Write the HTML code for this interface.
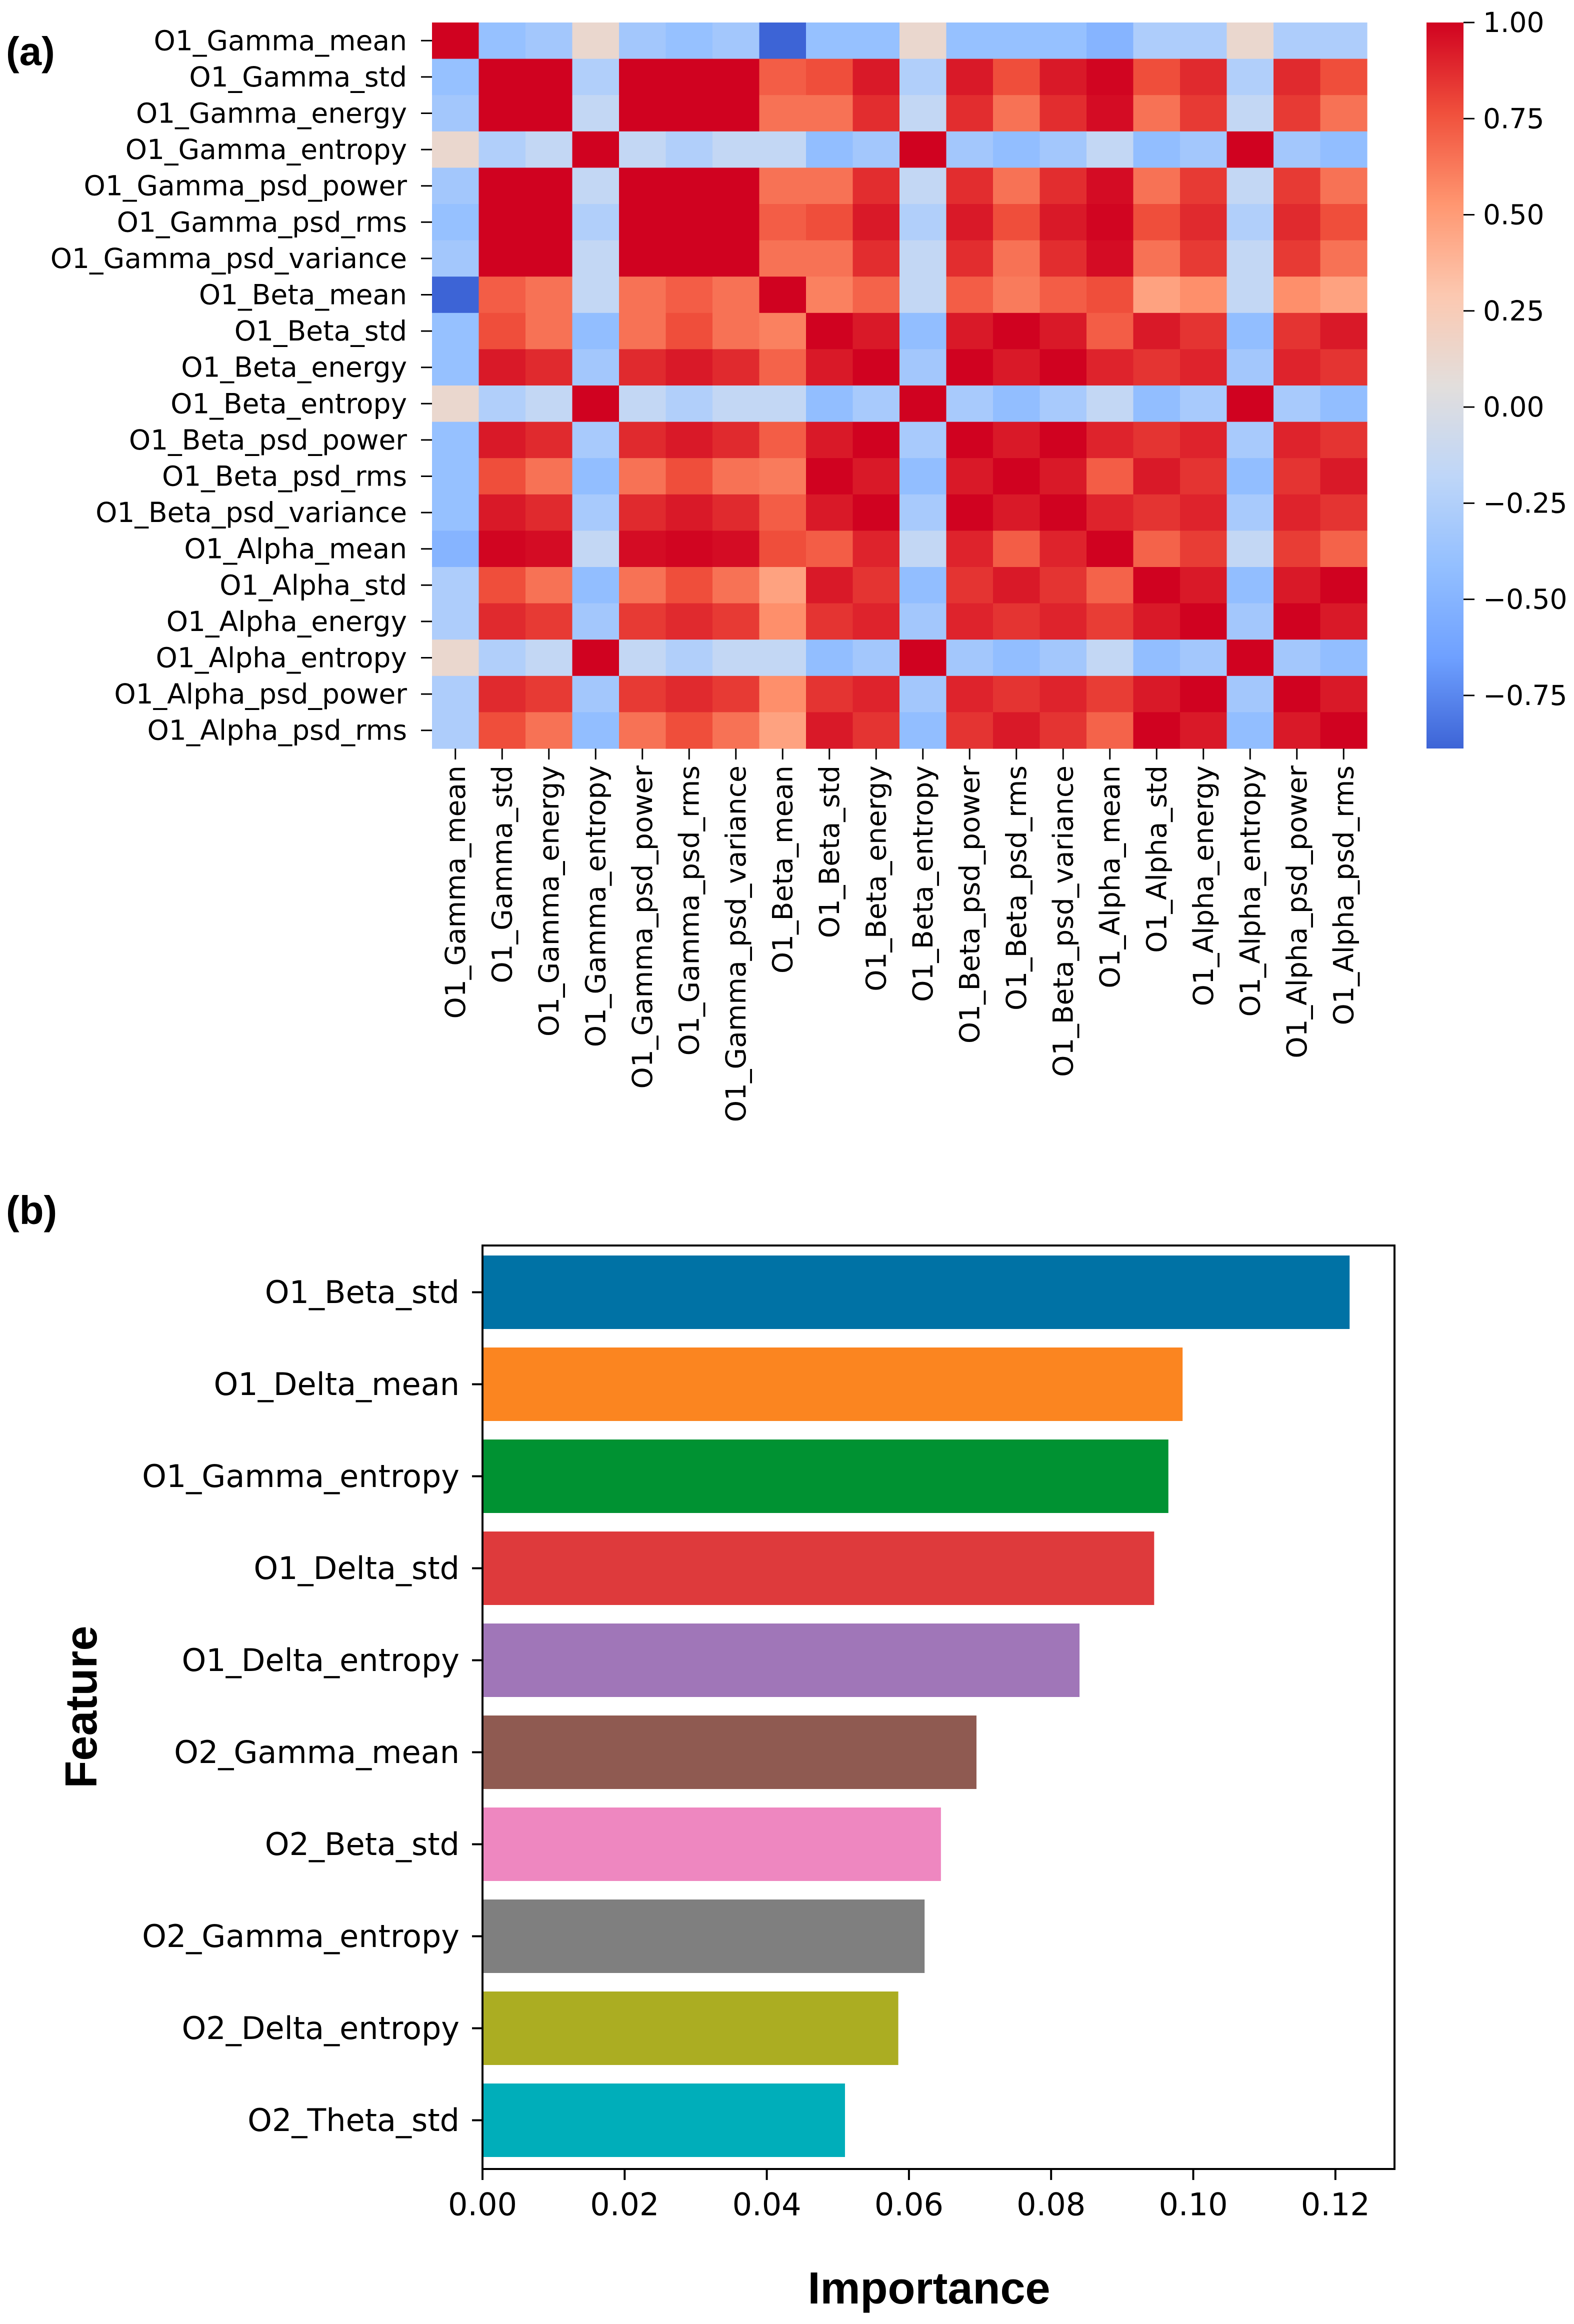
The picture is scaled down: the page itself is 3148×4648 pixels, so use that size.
<!DOCTYPE html>
<html><head><meta charset="utf-8"><style>
html,body{margin:0;padding:0;background:#fff;}
svg{display:block;}
text{font-family:"DejaVu Sans","Liberation Sans",sans-serif;fill:#000;}
.b{font-family:"Liberation Sans",sans-serif;font-weight:bold;}
</style></head><body>
<svg id="fig" xmlns="http://www.w3.org/2000/svg" width="3148" height="4648" viewBox="0 0 3148 4648">
<rect width="3148" height="4648" fill="#fff"/>
<text class="b" x="12" y="130" font-size="80">(a)</text>
<text class="b" x="12" y="2448" font-size="80">(b)</text>
<defs>
<linearGradient id="cbg" x1="0" y1="1" x2="0" y2="0">
<stop offset="0" stop-color="rgb(61,100,214)"/><stop offset="0.125" stop-color="rgb(110,160,255)"/>
<stop offset="0.25" stop-color="rgb(147,191,255)"/><stop offset="0.375" stop-color="rgb(190,214,248)"/>
<stop offset="0.5" stop-color="rgb(226,222,220)"/><stop offset="0.625" stop-color="rgb(252,200,176)"/>
<stop offset="0.75" stop-color="rgb(255,150,112)"/><stop offset="0.875" stop-color="rgb(240,80,60)"/>
<stop offset="1" stop-color="rgb(208,2,32)"/>
</linearGradient>
</defs>
<g id="heat"></g>
<g id="bars"></g>
</svg>
<script>
const features = ["O1_Gamma_mean","O1_Gamma_std","O1_Gamma_energy","O1_Gamma_entropy","O1_Gamma_psd_power","O1_Gamma_psd_rms","O1_Gamma_psd_variance","O1_Beta_mean","O1_Beta_std","O1_Beta_energy","O1_Beta_entropy","O1_Beta_psd_power","O1_Beta_psd_rms","O1_Beta_psd_variance","O1_Alpha_mean","O1_Alpha_std","O1_Alpha_energy","O1_Alpha_entropy","O1_Alpha_psd_power","O1_Alpha_psd_rms"];
const r0 = [1,-0.4,-0.33,0.13,-0.33,-0.4,-0.33,-0.89,-0.4,-0.4,0.13,-0.4,-0.4,-0.4,-0.5,-0.27,-0.27,0.13,-0.27,-0.27];
const r1 = [-0.4,1,1,-0.25,1,1,1,0.72,0.77,0.93,-0.25,0.93,0.77,0.93,0.99,0.77,0.88,-0.25,0.88,0.77];
const r2 = [-0.33,1,1,-0.15,1,1,1,0.65,0.65,0.87,-0.15,0.87,0.65,0.87,0.97,0.65,0.83,-0.15,0.83,0.65];
const r3 = [0.13,-0.25,-0.15,1,-0.15,-0.25,-0.15,-0.15,-0.42,-0.33,1,-0.33,-0.42,-0.33,-0.15,-0.42,-0.33,1,-0.33,-0.42];
const r4 = [-0.33,1,1,-0.15,1,1,1,0.65,0.65,0.87,-0.15,0.87,0.65,0.87,0.97,0.65,0.83,-0.15,0.83,0.65];
const r5 = [-0.4,1,1,-0.25,1,1,1,0.72,0.77,0.93,-0.25,0.93,0.77,0.93,0.99,0.77,0.88,-0.25,0.88,0.77];
const r6 = [-0.33,1,1,-0.15,1,1,1,0.65,0.65,0.87,-0.15,0.87,0.65,0.87,0.97,0.65,0.83,-0.15,0.83,0.65];
const r7 = [-0.89,0.72,0.65,-0.15,0.65,0.72,0.65,1,0.6,0.7,-0.15,0.72,0.62,0.72,0.77,0.47,0.55,-0.15,0.55,0.47];
const r8 = [-0.4,0.77,0.65,-0.42,0.65,0.77,0.65,0.6,1,0.93,-0.42,0.93,1,0.93,0.72,0.93,0.85,-0.42,0.85,0.93];
const r9 = [-0.4,0.93,0.88,-0.33,0.88,0.93,0.88,0.7,0.93,1,-0.33,1,0.93,1,0.9,0.85,0.9,-0.33,0.9,0.85];
const r10 = [0.13,-0.25,-0.15,1,-0.15,-0.25,-0.15,-0.15,-0.42,-0.3,1,-0.3,-0.42,-0.3,-0.15,-0.42,-0.3,1,-0.3,-0.42];
const r11 = [-0.4,0.93,0.88,-0.3,0.88,0.93,0.88,0.72,0.93,1,-0.3,1,0.93,1,0.9,0.85,0.9,-0.3,0.9,0.85];
const r12 = [-0.4,0.77,0.65,-0.42,0.65,0.77,0.65,0.62,1,0.93,-0.42,0.93,1,0.93,0.72,0.93,0.85,-0.42,0.85,0.93];
const r13 = [-0.4,0.93,0.88,-0.3,0.88,0.93,0.88,0.72,0.93,1,-0.3,1,0.93,1,0.9,0.85,0.9,-0.3,0.9,0.85];
const r14 = [-0.5,0.99,0.97,-0.15,0.97,0.99,0.97,0.77,0.72,0.9,-0.15,0.9,0.72,0.9,1,0.7,0.82,-0.15,0.82,0.7];
const r15 = [-0.27,0.77,0.65,-0.42,0.65,0.77,0.65,0.47,0.93,0.85,-0.42,0.85,0.93,0.85,0.7,1,0.93,-0.42,0.93,1];
const r16 = [-0.27,0.88,0.83,-0.33,0.83,0.88,0.83,0.55,0.85,0.9,-0.33,0.9,0.85,0.9,0.82,0.93,1,-0.33,1,0.93];
const r17 = [0.13,-0.25,-0.15,1,-0.15,-0.25,-0.15,-0.15,-0.42,-0.33,1,-0.33,-0.42,-0.33,-0.15,-0.42,-0.33,1,-0.33,-0.42];
const r18 = [-0.27,0.88,0.83,-0.33,0.83,0.88,0.83,0.55,0.85,0.9,-0.33,0.9,0.85,0.9,0.82,0.93,1,-0.33,1,0.93];
const r19 = [-0.27,0.77,0.65,-0.42,0.65,0.77,0.65,0.47,0.93,0.85,-0.42,0.85,0.93,0.85,0.7,1,0.93,-0.42,0.93,1];
const corr = [r0,r1,r2,r3,r4,r5,r6,r7,r8,r9,r10,r11,r12,r13,r14,r15,r16,r17,r18,r19];
const cbTicks = [1.0,0.75,0.5,0.25,0.0,-0.25,-0.5,-0.75];
const cbTickLabels = ["1.00","0.75","0.50","0.25","0.00","\u22120.25","\u22120.50","\u22120.75"];
const vmin = -0.888, vmax = 1.0;

const barFeatures = ["O1_Beta_std","O1_Delta_mean","O1_Gamma_entropy","O1_Delta_std","O1_Delta_entropy","O2_Gamma_mean","O2_Beta_std","O2_Gamma_entropy","O2_Delta_entropy","O2_Theta_std"];
const barValues = [0.122,0.0985,0.0965,0.0945,0.084,0.0695,0.0645,0.0622,0.0585,0.051];
const barColors = ["#0072a5","#fb8520","#009232","#de3a3c","#a076b8","#8f5a51","#ee87c0","#7f7f7f","#abad22","#00aeba"];
const xTicks = [0,0.02,0.04,0.06,0.08,0.10,0.12];
const xTickLabels = ["0.00","0.02","0.04","0.06","0.08","0.10","0.12"];

const NS = "http://www.w3.org/2000/svg";
function mk(tag, attrs, parent){ const e=document.createElementNS(NS,tag); for(const k in attrs) e.setAttribute(k,attrs[k]); parent.appendChild(e); return e; }
const stops=[[61,100,214],[110,160,255],[147,191,255],[190,214,248],[226,222,220],[252,200,176],[255,150,112],[240,80,60],[208,2,32]];
function cmap(v){ let t=(v-vmin)/(vmax-vmin); t=Math.max(0,Math.min(1,t)); const p=t*8; const i=Math.min(7,Math.floor(p)); const f=p-i; const a=stops[i],b=stops[i+1]; return "rgb("+a.map((c,j)=>Math.round(c+(b[j]-c)*f)).join(",")+")"; }

const heat=document.getElementById("heat");
const hx0=864,hx1=2734,hy0=45,hy1=1497;
const n=features.length, cw=(hx1-hx0)/n, ch=(hy1-hy0)/n;
const colX=i=>hx0+i*cw, rowY=i=>hy0+i*ch;
corr.forEach((row,i)=>row.forEach((v,j)=>{
  const c=mk("rect",{x:colX(j),y:rowY(i),width:cw+0.6,height:ch+0.6,fill:cmap(v)},heat);
  
  
}));
features.forEach((f,i)=>{
  const cy=rowY(i)+ch/2;
  const tk=mk("line",{x1:842,y1:cy,x2:hx0,y2:cy,stroke:"#000","stroke-width":3},heat);
  
  
  const t=mk("text",{x:814,y:cy,"text-anchor":"end","dominant-baseline":"central","font-size":55},heat);
  t.textContent=f;
  
  
  const cx=colX(i)+cw/2;
  const tk2=mk("line",{x1:cx,y1:hy1,x2:cx,y2:hy1+22,stroke:"#000","stroke-width":3},heat);
  
  
  const t2=mk("text",{x:0,y:0,"text-anchor":"end","dominant-baseline":"central","font-size":55,transform:"translate("+cx+","+(hy1+34)+") rotate(-90)"},heat);
  t2.textContent=f;
  
  
});
const cbx=2853,cbw=74;
const cb=mk("rect",{x:cbx,y:hy0,width:cbw,height:hy1-hy0,fill:"url(#cbg)"},heat);


const cbY=v=>hy1-(v-vmin)/(vmax-vmin)*(hy1-hy0);
cbTicks.forEach((v,i)=>{
  const y=cbY(v);
  const l=mk("line",{x1:cbx+cbw,y1:y,x2:cbx+cbw+22,y2:y,stroke:"#000","stroke-width":3},heat);
  
  
  const t=mk("text",{x:2966,y:y,"dominant-baseline":"central","font-size":55},heat);
  t.textContent=cbTickLabels[i];
  
  
});

const bars=document.getElementById("bars");
const ax0=965,ax1=2789,ay0=2491,ay1=4338;
const xs=v=>ax0+v/0.02*284.3;
const bandY=i=>2511+i*184, bh=147;
barValues.forEach((v,i)=>{
  const r=mk("rect",{x:ax0,y:bandY(i),width:xs(v)-ax0,height:bh,fill:barColors[i]},bars);
  
  
  const cy=bandY(i)+bh/2;
  const tk=mk("line",{x1:944,y1:cy,x2:ax0,y2:cy,stroke:"#000","stroke-width":4},bars);
  
  
  const t=mk("text",{x:919,y:cy,"text-anchor":"end","dominant-baseline":"central","font-size":62},bars);
  t.textContent=barFeatures[i];
  
  
});
const frame=mk("rect",{x:ax0,y:ay0,width:ax1-ax0,height:ay1-ay0,fill:"none",stroke:"#000","stroke-width":4},bars);


xTicks.forEach((v,i)=>{
  const x=xs(v);
  const l=mk("line",{x1:x,y1:ay1,x2:x,y2:ay1+22,stroke:"#000","stroke-width":4},bars);
  
  
  const t=mk("text",{x:x,y:4409,"text-anchor":"middle","dominant-baseline":"central","font-size":62},bars);
  t.textContent=xTickLabels[i];
  
  
});
const xl=mk("text",{x:1858,y:4577,"text-anchor":"middle","dominant-baseline":"central","font-size":90,"class":"b"},bars);
xl.textContent="Importance";


const yl=mk("text",{x:0,y:0,"text-anchor":"middle","dominant-baseline":"central","font-size":90,"class":"b",transform:"translate(163,3414) rotate(-90)"},bars);
yl.textContent="Feature";


</script>
</body></html>
